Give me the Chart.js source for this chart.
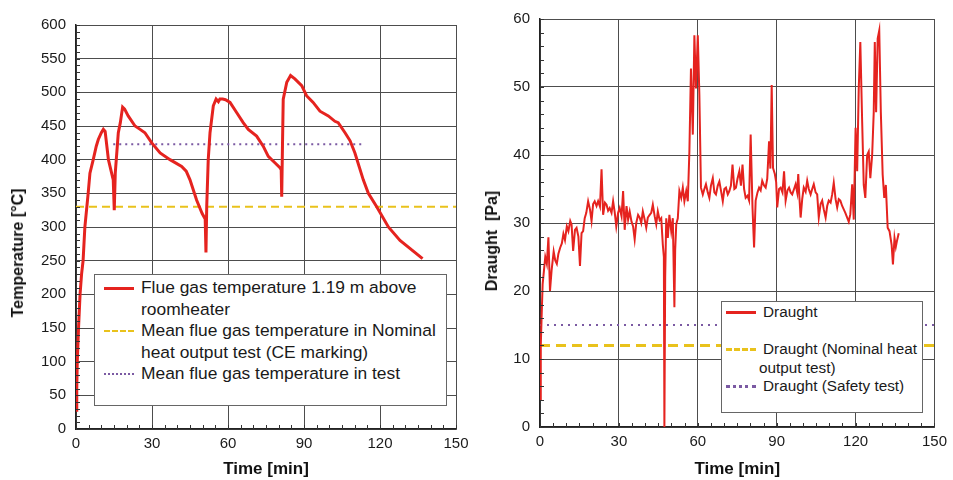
<!DOCTYPE html>
<html>
<head>
<meta charset="utf-8">
<script src="https://cdn.jsdelivr.net/npm/chart.js@4/dist/chart.umd.min.js"></script>
<style>
  body { margin: 0; background: #fff; }
  #wrap { position: relative; width: 953px; height: 480px; overflow: hidden; font-family: "Liberation Sans", Arial, sans-serif; color: #1a1a1a; }
  .cv { position: absolute; top: 0; }
  .legend { position: absolute; background: #fff; border: 1px solid #666; box-sizing: border-box; }
  .row { display: flex; align-items: flex-start; white-space: nowrap; }
  .smp { flex: none; width: 30px; }
  .ytitle { position: absolute; transform: translate(-50%, -50%) rotate(-90deg); white-space: pre; font-weight: bold; font-size: 16px; color: #111; }
</style>
</head>
<body>
<div id="wrap">
  <div class="cv" style="left:0;width:480px;height:480px"><canvas id="chartTemp"></canvas></div>
  <div class="cv" style="left:480px;width:473px;height:480px"><canvas id="chartDraught"></canvas></div>

  <div class="ytitle" style="left:18px;top:253px">Temperature [°C]</div>
  <div class="ytitle" style="left:492px;top:241px">Draught  [Pa]</div>

  <div class="legend" id="legTemp" style="left:94px;top:274px;width:353px;height:132px;padding-top:2px;font-size:17.4px;line-height:21.5px">
    <div class="row"><span class="smp" style="margin-left:9px;margin-top:10px;border-top:3px solid #e5231f"></span><span style="margin-left:7px">Flue gas temperature 1.19 m above<br>roomheater</span></div>
    <div class="row"><span class="smp" style="margin-left:9px;margin-top:10px;border-top:2px dashed #e9c21c"></span><span style="margin-left:7px">Mean flue gas temperature in Nominal<br>heat output test (CE marking)</span></div>
    <div class="row"><span class="smp" style="margin-left:9px;margin-top:10px;border-top:2px dotted #7b5aa3"></span><span style="margin-left:7px">Mean flue gas temperature in test</span></div>
  </div>

  <div class="legend" id="legDraught" style="left:721px;top:301px;width:202px;height:112px;padding-top:1px;font-size:15.3px;line-height:18.5px">
    <div class="row"><span class="smp" style="margin-left:4px;margin-top:8px;border-top:3px solid #e5231f"></span><span style="margin-left:7px">Draught<br>&nbsp;</span></div>
    <div class="row"><span class="smp" style="margin-left:4px;margin-top:8px;border-top:3px dashed #e9c21c"></span><span style="margin-left:7px">Draught (Nominal heat<br><span style="margin-left:-4px">output test)</span></span></div>
    <div class="row"><span class="smp" style="margin-left:4px;margin-top:8px;border-top:3px dotted #7b5aa3"></span><span style="margin-left:7px">Draught (Safety test)</span></div>
  </div>
</div>

<script>
// --- datos: temperatura de humos ---
const tempTime = [
  0, 0.3, 0.5, 1.0, 1.6, 2.2, 2.8, 3.5, 4.8, 5.5,
  6.8, 8.0, 8.8, 10.0, 10.8, 11.5, 12.8, 14.7, 15.1, 15.5,
  16.7, 17.5, 18.4, 19.2, 20.6, 23.3, 25.3, 27.2, 29.9, 33.2,
  37.1, 41.7, 43.5, 45.0, 47.6, 49.8, 51.0, 51.3, 51.6, 52.2,
  52.9, 54.2, 55.3, 56.2, 56.8, 57.9, 59.0, 60.8, 63.4, 66.0,
  68.0, 71.3, 73.9, 75.9, 78.6, 80.5, 81.0, 81.2, 81.5, 81.8,
  83.2, 84.7, 86.4, 89.1, 91.0, 93.6, 96.3, 99.6, 102.2, 103.5,
  106.2, 108.2, 110.1, 113.4, 115.4, 118.7, 123.3, 127.9, 136.8
];
const tempValues = [
  28, 60, 100, 150, 200, 230, 250, 300, 350, 380,
  400, 420, 430, 440, 445, 442, 400, 370, 325, 380,
  440, 455, 478, 475, 465, 450, 445, 440, 425, 410,
  400, 390, 383, 370, 340, 320, 312, 262, 330, 400,
  440, 480, 490, 486, 490, 490, 489, 485, 470, 455,
  445, 435, 420, 405, 395, 388, 385, 345, 420, 490,
  515, 525, 520, 510, 495, 485, 472, 465, 457, 455,
  440, 428, 410, 370, 350, 330, 300, 280, 253
];
const tempMeanNominal = 330;
const tempMeanTest = 423;
const tempMeanTestRange = [14.7, 113.2];

// --- datos: tiro ---
const draughtTime = [
  0, 0.3, 0.6, 1.0, 1.5, 2.0, 2.6, 3.2, 3.8, 4.4,
  5.2, 5.8, 6.4, 7.0, 7.7, 8.3, 8.9, 9.5, 10.2, 10.8,
  11.5, 12.0, 12.6, 13.3, 13.9, 14.6, 15.2, 15.8, 16.4, 17.0,
  17.6, 18.3, 19.0, 19.6, 20.2, 20.8, 21.5, 22.1, 22.8, 23.4,
  24.0, 24.7, 25.3, 25.9, 26.5, 27.2, 27.8, 28.4, 29.0, 29.7,
  30.3, 31.0, 31.6, 32.2, 32.9, 33.5, 34.1, 34.8, 35.4, 36.0,
  36.6, 37.3, 37.9, 38.5, 39.1, 39.8, 40.4, 41.0, 41.7, 42.3,
  42.9, 43.6, 44.2, 44.8, 45.5, 46.1, 46.7, 47.1, 47.3, 47.6,
  48.0, 48.6, 49.2, 49.9, 50.5, 51.1, 51.4, 51.8, 52.4, 53.0,
  53.7, 54.3, 54.9, 55.6, 56.2, 56.8, 57.4, 58.1, 58.7, 59.3,
  60.0, 60.6, 61.2, 61.9, 62.5, 63.1, 63.8, 64.4, 65.0, 65.7,
  66.3, 66.9, 67.6, 68.2, 68.8, 69.5, 70.1, 70.7, 71.4, 72.0,
  72.6, 73.2, 73.9, 74.5, 75.1, 75.8, 76.4, 77.0, 77.6, 78.2,
  78.9, 79.5, 80.1, 80.8, 81.4, 82.0, 82.7, 83.3, 83.9, 84.5,
  85.2, 85.8, 86.4, 87.1, 87.6, 88.1, 88.6, 89.3, 89.8, 90.2,
  90.9, 91.5, 92.2, 92.8, 93.4, 94.1, 94.7, 95.3, 95.9, 96.6,
  97.2, 97.8, 98.2, 98.6, 99.1, 99.7, 100.3, 101.0, 101.6, 102.2,
  102.9, 103.5, 104.1, 104.8, 105.4, 106.0, 106.7, 107.3, 107.9, 108.6,
  109.2, 109.8, 110.5, 111.1, 111.7, 112.4, 113.0, 113.6, 114.2, 114.9,
  115.5, 116.1, 116.8, 117.4, 118.0, 118.7, 119.3, 120.0, 120.6, 121.2,
  121.8, 122.5, 123.1, 123.7, 124.4, 125.0, 125.6, 126.3, 126.9, 127.3,
  127.8, 128.4, 129.0, 129.6, 130.3, 130.9, 131.5, 132.2, 132.9, 133.7,
  134.2, 134.8, 135.3, 135.7, 136.4
];
const draughtValues = [
  4, 12, 16, 21, 23, 25, 24, 27.9, 20, 23,
  25.8, 24.5, 24, 25.5, 26.4, 27, 28.4, 27.5, 29.5, 28.8,
  30.3, 29.8, 25.9, 29, 29.3, 28, 23.7, 28.5, 28.8, 30.7,
  31.5, 33.2, 32, 30.3, 32.8, 33.2, 32.5, 33.2, 32.4, 37.9,
  31.2, 33, 32.7, 31.8, 32.2, 31.5, 33.2, 31.6, 29.5, 31.5,
  32.2, 31, 34.7, 29, 32.5, 30.5, 31.7, 30.2, 29.5, 27.6,
  30, 31.2, 30.8, 30, 31.7, 30.5, 29.3, 30.8, 31.2, 31.5,
  32.7, 31, 29.8, 31.7, 30.4, 30.7, 26.8, 25, 0, 22,
  30.7, 27.8, 31.2, 28.8, 30.7, 17.6, 26, 29.8, 30.7, 34.7,
  33.7, 35.2, 33.2, 34.7, 33.2, 40.5, 52.7, 43, 57.6, 49.8,
  57.6, 48.8, 35.2, 34.2, 35, 35.7, 34.5, 33.7, 35.5, 36.6,
  34.5, 34.2, 35.5, 36.1, 34.8, 33.2, 35, 35.2, 34.2, 34.7,
  35.5, 38.6, 35, 35.2, 36.5, 37.6, 35.5, 38.6, 35, 33.7,
  34, 33.3, 43, 32.3, 26.4, 33.3, 34.5, 35.2, 34.8, 36.2,
  35.5, 35.2, 36.5, 42, 38, 50.3, 38.1, 37.2, 36, 32.3,
  35, 35.2, 34.5, 37.6, 33.3, 34.8, 35.2, 34.5, 34.2, 35,
  35.7, 34.5, 37.2, 34, 30.8, 33.5, 35.2, 34.6, 36.2, 35,
  34.2, 35, 35.7, 34.5, 34.2, 30.8, 32.8, 33.3, 32, 30.8,
  32.5, 33.3, 33, 34.2, 35.9, 33.5, 32.3, 33.5, 33.3, 32.5,
  32, 31.5, 30.8, 30.2, 31.3, 35.7, 30.5, 44, 37.6, 49.8,
  56.6, 44.9, 35.6, 33.7, 40, 40.5, 36.6, 40, 46.3, 56.6,
  46.3, 57.1, 58.3, 46.3, 37.1, 33.7, 35.6, 29.3, 28.8, 26.8,
  23.9, 27.8, 26.5, 27.3, 28.5
];
const draughtNominal = 12;
const draughtSafety = 15;

const xRange = [0, 150];

const RED = '#e5231f', YELLOW = '#e9c21c', PURPLE = '#7b5aa3';
const FONT = "'Liberation Sans', Arial, sans-serif";

const pts = (xs, ys) => xs.map((x, i) => ({ x, y: ys[i] }));
const hline = (v, range) => [{ x: range[0], y: v }, { x: range[1], y: v }];

// marcas menores hacia dentro
const minorTicks = {
    id: 'minorTicks',
    afterDatasetsDraw(chart, args, opts) {
        const { ctx, scales: { x, y } } = chart;
        ctx.save();
        ctx.strokeStyle = '#333';
        ctx.lineWidth = 1;
        ctx.beginPath();
        for (let v = x.min; v <= x.max + 1e-6; v += opts.x) {
            const px = Math.round(x.getPixelForValue(v)) + 0.5;
            ctx.moveTo(px, y.bottom); ctx.lineTo(px, y.bottom - 4);
        }
        for (let v = y.min; v <= y.max + 1e-6; v += opts.y) {
            const py = Math.round(y.getPixelForValue(v)) + 0.5;
            ctx.moveTo(x.left, py); ctx.lineTo(x.left + 4, py);
        }
        ctx.stroke();
        ctx.restore();
    }
};

function makeOptions(cfg) {
    return {
        responsive: true,
        maintainAspectRatio: false,
        animation: false,
        layout: { padding: cfg.padding },
        plugins: { legend: { display: false }, tooltip: { enabled: false }, minorTicks: cfg.minor },
        elements: { point: { radius: 0 }, line: { tension: 0 } },
        scales: {
            x: {
                type: 'linear', min: xRange[0], max: xRange[1],
                ticks: { stepSize: 30, color: '#1a1a1a', font: { family: FONT, size: 15 }, padding: 6 },
                grid: { color: '#4d4d4d', lineWidth: 1, tickLength: 0 },
                border: { color: '#222', width: 1.5 },
                title: { display: true, text: 'Time [min]', color: '#111', font: { family: FONT, size: 17, weight: 'bold' }, padding: { top: 2, bottom: 0 } },
                afterFit: s => { s.height = cfg.xh; }
            },
            y: {
                min: cfg.ymin, max: cfg.ymax,
                ticks: { stepSize: cfg.ystep, color: '#1a1a1a', font: { family: FONT, size: 15 }, padding: 10 },
                grid: { color: '#4d4d4d', lineWidth: 1, tickLength: 0 },
                border: { color: '#222', width: 1.5 },
                title: { display: false },
                afterFit: s => { s.width = cfg.yw; }
            }
        }
    };
}

new Chart(document.getElementById('chartTemp'), {
    type: 'line',
    data: {
        datasets: [
            { label: 'Flue gas temperature 1.19 m above roomheater', data: pts(tempTime, tempValues), borderColor: RED, borderWidth: 3 },
            { label: 'Mean flue gas temperature in Nominal heat output test (CE marking)', data: hline(tempMeanNominal, xRange), borderColor: YELLOW, borderWidth: 2, borderDash: [8, 5] },
            { label: 'Mean flue gas temperature in test', data: hline(tempMeanTest, tempMeanTestRange), borderColor: PURPLE, borderWidth: 2, borderDash: [2, 4] }
        ]
    },
    options: makeOptions({ padding: { top: 25, right: 24, left: 0, bottom: 0 }, xh: 51, yw: 76, ymin: 0, ymax: 600, ystep: 50, minor: { x: 5, y: 10 } }),
    plugins: [minorTicks]
});

new Chart(document.getElementById('chartDraught'), {
    type: 'line',
    data: {
        datasets: [
            { label: 'Draught', data: pts(draughtTime, draughtValues), borderColor: RED, borderWidth: 2 },
            { label: 'Draught (Nominal heat output test)', data: hline(draughtNominal, xRange), borderColor: YELLOW, borderWidth: 3, borderDash: [10, 6] },
            { label: 'Draught (Safety test)', data: hline(draughtSafety, xRange), borderColor: PURPLE, borderWidth: 2, borderDash: [2, 5] }
        ]
    },
    options: makeOptions({ padding: { top: 17, right: 17, left: 0, bottom: 0 }, xh: 53, yw: 60, ymin: 0, ymax: 60, ystep: 10, minor: { x: 5, y: 2 } }),
    plugins: [minorTicks]
});
</script>
</body>
</html>
